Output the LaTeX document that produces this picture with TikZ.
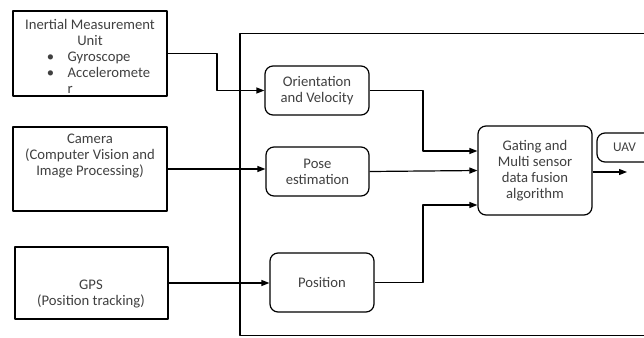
\documentclass[tikz,border=0pt]{standalone}
\usepackage{fontspec}
\setmainfont{Carlito}
\usetikzlibrary{arrows.meta}
\begin{document}
\begin{tikzpicture}[x=0.75pt, y=-0.75pt, font=\fontsize{11}{12}\selectfont, line join=round, line width=0.9pt,
	>={Stealth[length=6pt, width=4.5pt, inset=0pt]},
	box/.style={draw, inner sep=0pt},
	block/.style={draw, rounded corners=6pt, align=center, inner sep=0pt, text=black!75},
	txt/.style={align=center, inner sep=0pt, text=black!75}]
	\useasboundingbox (0,0) rectangle (644,337);
	\clip (0,0) rectangle (644,337);
	% sensors
	\node[box, minimum width=115.5pt, minimum height=63.75pt] (imu) at (90,53.5) {};
	\node[txt] (imutext) at (90,56) {Inertial Measurement\\Unit\\
		\makebox[64.5pt][l]{\makebox[15.5pt][l]{\textbullet}Gyroscope}\\
		\makebox[64.5pt][l]{\makebox[15.5pt][l]{\textbullet}Acceleromete}\\
		\makebox[64.5pt][l]{\hspace*{15.5pt}r}};
	\node[box, minimum width=115.5pt, minimum height=63pt] (cam) at (90,169) {};
	\node[txt] (camtext) at (90,156) {Camera\\(Computer Vision and\\Image Processing)};
	\node[box, minimum width=114.75pt, minimum height=54pt] (gps) at (91.5,283) {};
	\node[txt] (gpstext) at (91,294) {GPS\\(Position tracking)};
	% processing
	\node[box, minimum width=315pt, minimum height=226.5pt] (frame) at (450,184.5) {};
	\node[block, minimum width=78pt, minimum height=36.75pt] (orient) at (317,90.5) {Orientation\\and Velocity};
	\node[block, minimum width=77.25pt, minimum height=36.75pt] (pose) at (317.5,171.5) {Pose\\estimation};
	\node[block, minimum width=78pt, minimum height=44.25pt] (pos) at (322,282.5) {Position};
	\node[block, minimum width=85.5pt, minimum height=66.75pt] (fusion) at (535,170.5) {Gating and\\Multi sensor\\data fusion\\algorithm};
	\node[block, minimum width=41.25pt, minimum height=21.75pt, font=\fontsize{10}{12}\selectfont] (uav) at (624.5,147.5) {UAV};
	\coordinate (imubend) at (217,90.5);
	\coordinate (orientbend) at (423,151);
	\coordinate (posbend) at (423,205);
	\coordinate (uavend) at (627,172);
	% connectors
	\draw[->] (imu.east) -| (imubend) -- (orient.west);
	\draw[->] (cam.east) -- (cam.east -| pose.west);
	\draw[->] (gps.east) -- (gps.east -| pos.west);
	\draw[->] (orient.east) -| (orientbend) -- (orientbend -| fusion.west);
	\draw[->] (pose.east) -- (fusion.west);
	\draw[->] (pos.east) -| (posbend) -- (posbend -| fusion.west);
	\draw[->] (fusion.east |- uavend) -- (uavend);
\end{tikzpicture}
\end{document}
